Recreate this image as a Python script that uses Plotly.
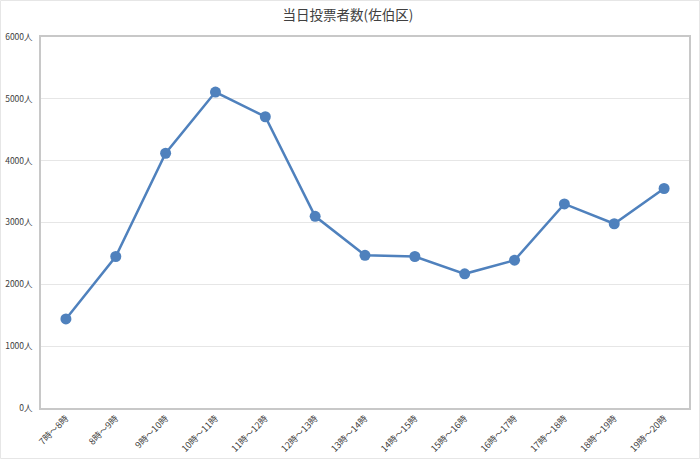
import plotly.graph_objects as go

# 時間帯ごとの当日投票者数（佐伯区）
time_slots = [
    "7時～8時", "8時～9時", "9時～10時", "10時～11時", "11時～12時",
    "12時～13時", "13時～14時", "14時～15時", "15時～16時", "16時～17時",
    "17時～18時", "18時～19時", "19時～20時",
]
voters = [1440, 2450, 4120, 5110, 4710, 3100, 2470, 2450, 2170, 2390, 3300, 2980, 3550]

y_ticks = [0, 1000, 2000, 3000, 4000, 5000, 6000]
y_tick_labels = [f"{v}人" for v in y_ticks]

font_family = "Noto Sans CJK JP, Noto Sans, sans-serif"

fig = go.Figure()

fig.add_trace(go.Scatter(
    x=time_slots,
    y=voters,
    mode="lines+markers",
    line=dict(color="#4F81BD", width=2.5),
    marker=dict(color="#4F81BD", size=11),
    showlegend=False,
))

fig.update_layout(
    title=dict(
        text="当日投票者数(佐伯区)",
        x=0.497, xanchor="center",
        y=0.967, yanchor="middle",
        font=dict(family=font_family, size=13.5, color="#404040"),
    ),
    width=700,
    height=459,
    margin=dict(l=41, r=11, t=37, b=51),
    paper_bgcolor="white",
    plot_bgcolor="white",
    font=dict(family=font_family, color="#404040"),
    xaxis=dict(
        type="category",
        range=[-0.5, 12.5],
        tickangle=-45,
        tickfont=dict(size=9, color="#404040"),
        showgrid=False,
        showline=True,
        linecolor="#c8c8c8",
        linewidth=1.5,
        mirror=True,
        ticks="",
        automargin=False,
    ),
    yaxis=dict(
        range=[0, 6000],
        tickvals=y_ticks,
        ticktext=y_tick_labels,
        tickfont=dict(size=8.5, color="#404040"),
        ticklabelstandoff=5,
        showgrid=True,
        gridcolor="#e6e6e6",
        gridwidth=1,
        showline=True,
        linecolor="#c8c8c8",
        linewidth=1.5,
        mirror=True,
        zeroline=False,
        ticks="",
        automargin=False,
    ),
)

# 外枠
fig.add_shape(
    type="rect", xref="paper", yref="paper",
    x0=-40.5 / 648, x1=1 + 10.5 / 648, y0=-50.5 / 371, y1=1 + 36.5 / 371,
    line=dict(color="#e6e6e6", width=1),
)

# ページ余白を消す
fig.write_html(
    "out.html",
    config={"displayModeBar": False},
    post_script="document.body.style.margin='0';",
)
